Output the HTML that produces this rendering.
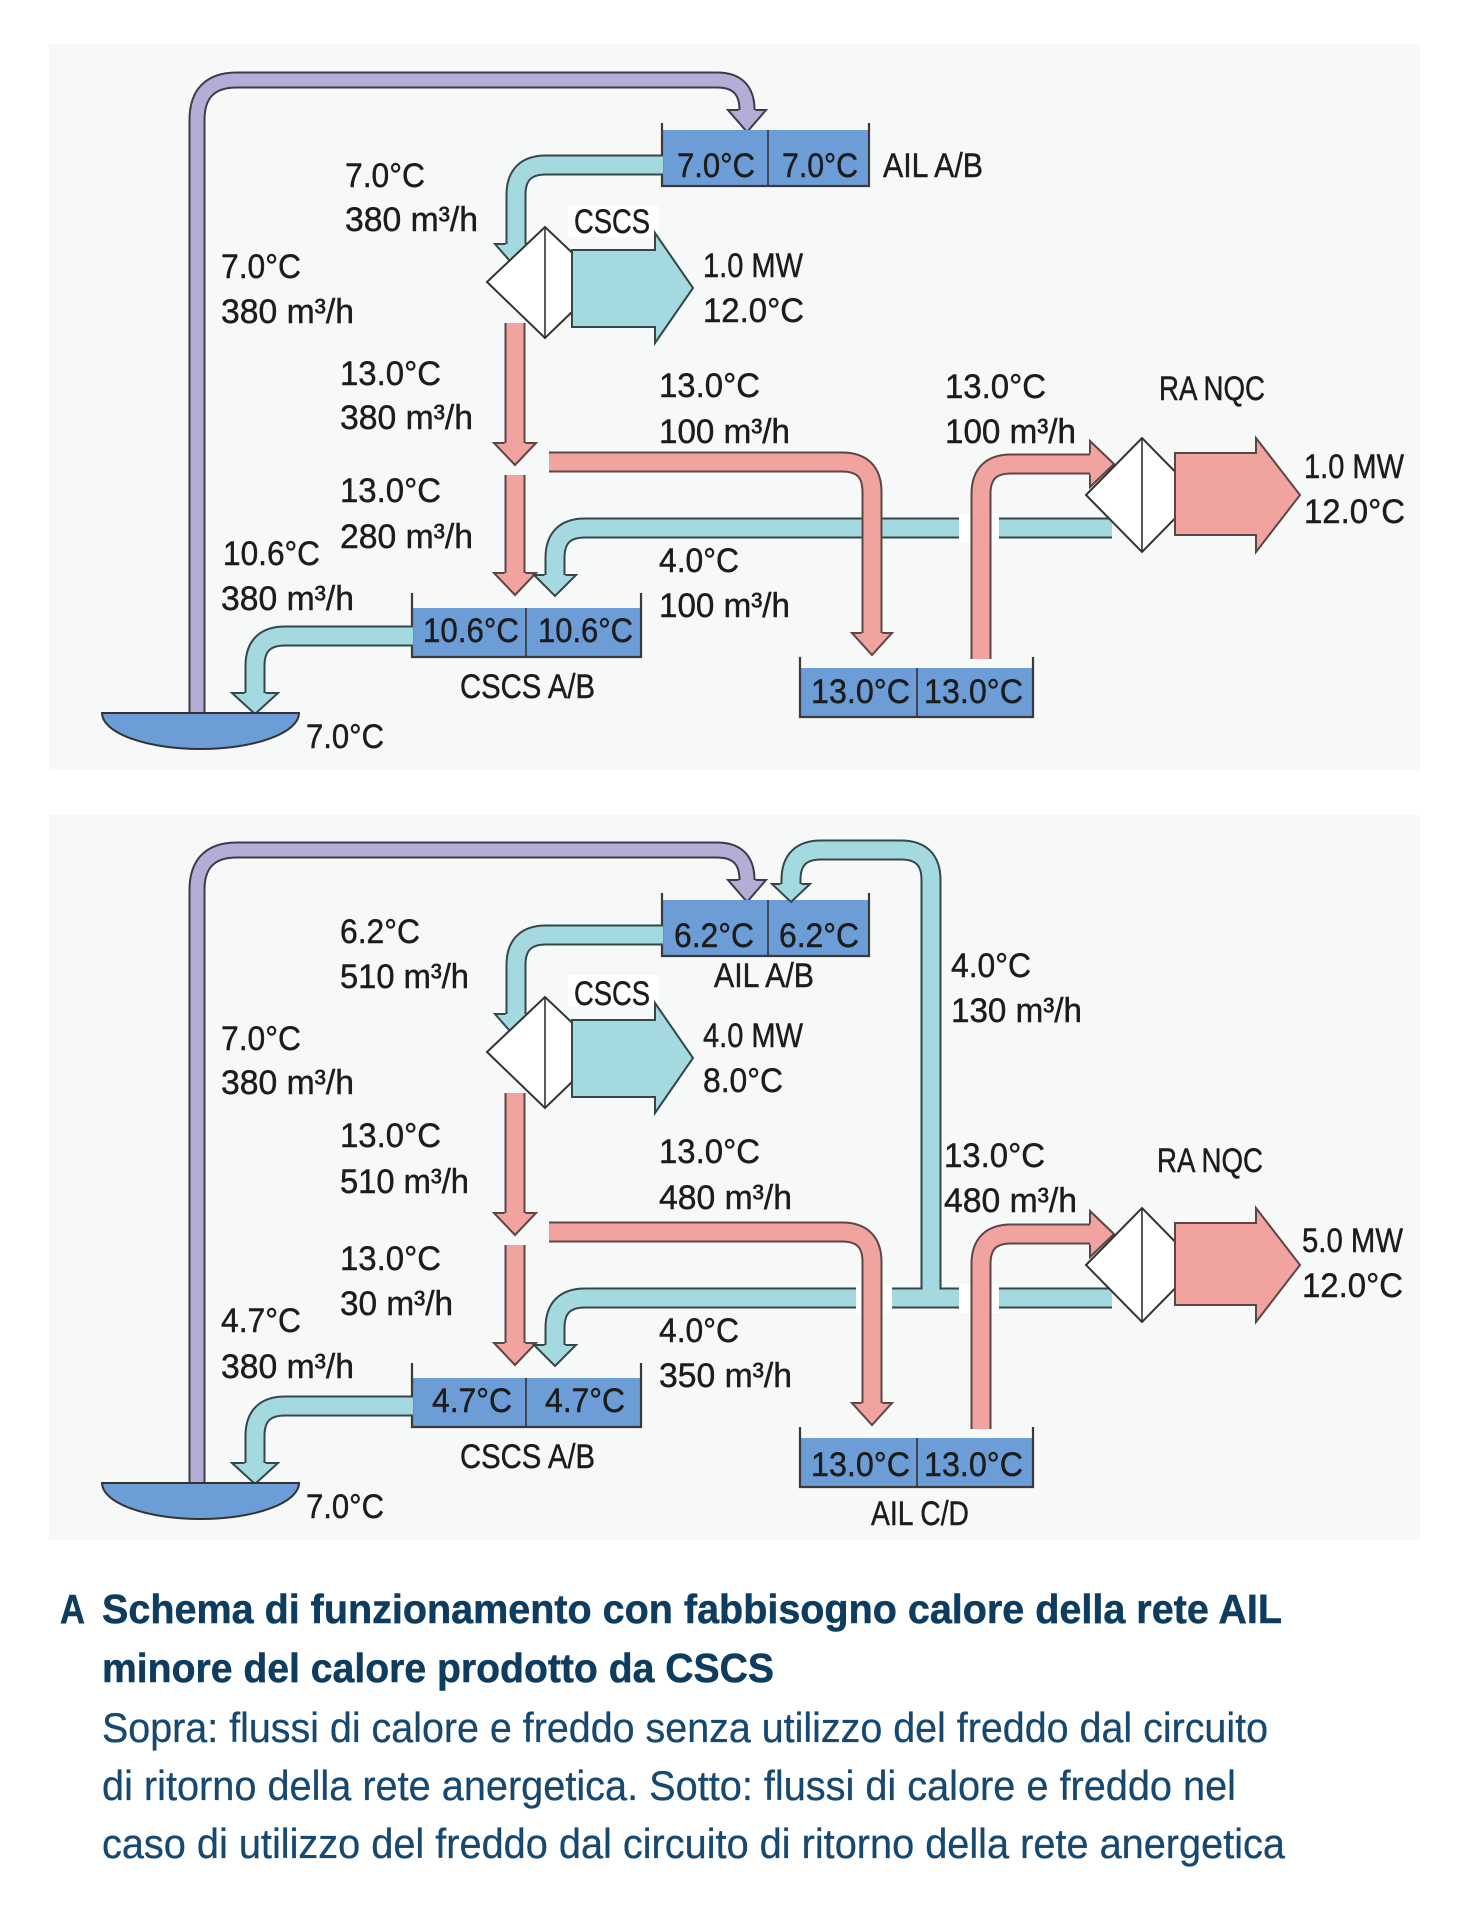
<!DOCTYPE html>
<html>
<head>
<meta charset="utf-8">
<style>
  html,body{margin:0;padding:0;background:#fff;}
  svg{display:block;}
  .po{fill:none;stroke:#3d3b4a;stroke-width:17}
  .pi{fill:none;stroke:#b6add6;stroke-width:13}
  .co{fill:none;stroke:#34474a;stroke-width:21}
  .ci{fill:none;stroke:#a3d9df;stroke-width:17}
  .ro{fill:none;stroke:#5b4646;stroke-width:21}
  .ri{fill:none;stroke:#f1a3a0;stroke-width:17}
  .ahp{fill:#b6add6;stroke:#3d3b4a;stroke-width:2;stroke-linejoin:miter}
  .ahc{fill:#a3d9df;stroke:#34474a;stroke-width:2;stroke-linejoin:miter}
  .ahr{fill:#f1a3a0;stroke:#5b4646;stroke-width:2;stroke-linejoin:miter}
  .dia{fill:#fff;stroke:#333;stroke-width:2}
  .vl{stroke:#333;stroke-width:1.6}
  .box{fill:#6c9dd7}
  .bo{fill:none;stroke:#3a3a3a;stroke-width:2.2}
  .t{font-family:"Liberation Sans Narrow","Liberation Sans",sans-serif;font-size:34.5px;fill:#1c1c1c;stroke:#1c1c1c;stroke-width:0.45}
  .cb{font-family:"Liberation Sans Narrow","Liberation Sans",sans-serif;font-size:41px;font-weight:bold;fill:#0d3c5f;stroke:#0d3c5f;stroke-width:0.5}
  .cr{font-family:"Liberation Sans Narrow","Liberation Sans",sans-serif;font-size:42px;fill:#174870;stroke:#174870;stroke-width:0.3}
</style>
</head>
<body>
<svg width="1479" height="1920" viewBox="0 0 1479 1920" xmlns="http://www.w3.org/2000/svg">
  <rect x="0" y="0" width="1479" height="1920" fill="#fff"/>

  <!-- ================= TOP DIAGRAM ================= -->
  <g>
    <rect x="49" y="44" width="1371" height="726" fill="#f7f8f8"/>
    <path class="po" d="M197,714 V120 Q197,80 237,80 H717 Q747,80 747,110"/>
    <path class="pi" d="M197,714 V120 Q197,80 237,80 H717 Q747,80 747,110"/>
    <path class="ahp" d="M738.5,110 L728,110 L747,132 L766,110 L755.5,110"/>

    <rect class="box" x="662" y="130" width="207" height="56"/>
    <path class="bo" d="M662,123 V186 H869 V123"/>
    <line class="vl" x1="768" y1="130" x2="768" y2="186"/>

    <path class="co" d="M663,165 H546 Q516,165 516,195 V244"/>
    <path class="ci" d="M663,165 H546 Q516,165 516,195 V244"/>
    <path class="ahc" d="M505.5,244 L495,244 L516,268 L537,244 L526.5,244"/>

    <path class="ro" d="M515,323 V443"/>
    <path class="ri" d="M515,323 V443"/>
    <path class="ahr" d="M504.5,443 L494,443 L515,465 L536,443 L525.5,443"/>

    <rect x="568" y="205" width="90" height="32" fill="#fff"/>
    <polygon class="dia" points="487,282 545,227 603,282 545,338"/>
    <line class="vl" x1="545" y1="227" x2="545" y2="338"/>
    <polygon class="ahc" points="572,250 655,250 655,233 693,288 655,343 655,327 572,327"/>

    <path class="ro" d="M515,475 V573"/>
    <path class="ri" d="M515,475 V573"/>
    <path class="ahr" d="M504.5,573 L494,573 L515,595 L536,573 L525.5,573"/>

    <path class="co" d="M1112,528 H585 Q555,528 555,558 V575"/>
    <path class="ci" d="M1112,528 H585 Q555,528 555,558 V575"/>
    <path class="ahc" d="M544.5,575 L534,575 L555,596 L576,575 L565.5,575"/>

    <path class="ro" d="M549,462 H842 Q872,462 872,492 V633"/>
    <path class="ri" d="M549,462 H842 Q872,462 872,492 V633"/>
    <path class="ahr" d="M861.5,633 L852,633 L872,655 L892,633 L882.5,633"/>

    <rect x="959" y="514" width="40" height="29" fill="#fff"/>
    <path class="ro" d="M981,659 V494 Q981,464 1011,464 H1090"/>
    <path class="ri" d="M981,659 V494 Q981,464 1011,464 H1090"/>
    <path class="ahr" d="M1090,453.5 L1090,441 L1114,464 L1090,487 L1090,474.5"/>

    <polygon class="dia" points="1086,495 1142,438 1198,495 1142,552"/>
    <line class="vl" x1="1142" y1="438" x2="1142" y2="552"/>
    <polygon class="ahr" points="1175,453 1256,453 1256,438 1300,495 1256,552 1256,535 1175,535"/>

    <rect class="box" x="412" y="608" width="229" height="49"/>
    <path class="bo" d="M412,593 V657 H641 V593"/>
    <line class="vl" x1="526" y1="608" x2="526" y2="657"/>

    <rect class="box" x="800" y="668" width="233" height="49"/>
    <path class="bo" d="M800,657 V717 H1033 V657"/>
    <line class="vl" x1="917" y1="668" x2="917" y2="717"/>

    <path class="co" d="M413,636 H285 Q255,636 255,666 V693"/>
    <path class="ci" d="M413,636 H285 Q255,636 255,666 V693"/>
    <path class="ahc" d="M244.5,693 L232,693 L255,714 L278,693 L265.5,693"/>

    <path d="M102,713 A98.5,36 0 0 0 299,713 Z" fill="#6c9dd7" stroke="#333" stroke-width="2"/>
  </g>

  <!-- ================= BOTTOM DIAGRAM ================= -->
  <g transform="translate(0,770)">
    <rect x="49" y="45" width="1371" height="725" fill="#f7f8f8"/>
    <path class="po" d="M197,714 V120 Q197,80 237,80 H717 Q747,80 747,110"/>
    <path class="pi" d="M197,714 V120 Q197,80 237,80 H717 Q747,80 747,110"/>
    <path class="ahp" d="M738.5,110 L728,110 L747,132 L766,110 L755.5,110"/>

    <rect class="box" x="662" y="130" width="207" height="56"/>
    <path class="bo" d="M662,123 V186 H869 V123"/>
    <line class="vl" x1="768" y1="130" x2="768" y2="186"/>

    <path class="co" d="M663,165 H546 Q516,165 516,195 V244"/>
    <path class="ci" d="M663,165 H546 Q516,165 516,195 V244"/>
    <path class="ahc" d="M505.5,244 L495,244 L516,268 L537,244 L526.5,244"/>

    <path class="ro" d="M515,323 V443"/>
    <path class="ri" d="M515,323 V443"/>
    <path class="ahr" d="M504.5,443 L494,443 L515,465 L536,443 L525.5,443"/>

    <rect x="568" y="205" width="90" height="32" fill="#fff"/>
    <polygon class="dia" points="487,282 545,227 603,282 545,338"/>
    <line class="vl" x1="545" y1="227" x2="545" y2="338"/>
    <polygon class="ahc" points="572,250 655,250 655,233 693,288 655,343 655,327 572,327"/>

    <path class="ro" d="M515,475 V573"/>
    <path class="ri" d="M515,475 V573"/>
    <path class="ahr" d="M504.5,573 L494,573 L515,595 L536,573 L525.5,573"/>

    <path class="co" d="M1112,528 H585 Q555,528 555,558 V575"/>
    <path class="ci" d="M1112,528 H585 Q555,528 555,558 V575"/>
    <path class="ahc" d="M544.5,575 L534,575 L555,596 L576,575 L565.5,575"/>

    <path class="co" d="M931,518 V110 Q931,80 901,80 H821 Q791,80 791,110 V114"/>
    <path class="ci" d="M931,530 V110 Q931,80 901,80 H821 Q791,80 791,110 V114"/>
    <path class="ahc" d="M780.5,114 L772,114 L791,132 L810,114 L801.5,114"/>

    <rect x="856" y="514" width="36" height="29" fill="#fff"/>
    <path class="ro" d="M549,462 H842 Q872,462 872,492 V633"/>
    <path class="ri" d="M549,462 H842 Q872,462 872,492 V633"/>
    <path class="ahr" d="M861.5,633 L852,633 L872,655 L892,633 L882.5,633"/>

    <rect x="959" y="514" width="40" height="29" fill="#fff"/>
    <path class="ro" d="M981,659 V494 Q981,464 1011,464 H1090"/>
    <path class="ri" d="M981,659 V494 Q981,464 1011,464 H1090"/>
    <path class="ahr" d="M1090,453.5 L1090,441 L1114,464 L1090,487 L1090,474.5"/>

    <polygon class="dia" points="1086,495 1142,438 1198,495 1142,552"/>
    <line class="vl" x1="1142" y1="438" x2="1142" y2="552"/>
    <polygon class="ahr" points="1175,453 1256,453 1256,438 1300,495 1256,552 1256,535 1175,535"/>

    <rect class="box" x="412" y="608" width="229" height="49"/>
    <path class="bo" d="M412,593 V657 H641 V593"/>
    <line class="vl" x1="526" y1="608" x2="526" y2="657"/>

    <rect class="box" x="800" y="668" width="233" height="49"/>
    <path class="bo" d="M800,657 V717 H1033 V657"/>
    <line class="vl" x1="917" y1="668" x2="917" y2="717"/>

    <path class="co" d="M413,636 H285 Q255,636 255,666 V693"/>
    <path class="ci" d="M413,636 H285 Q255,636 255,666 V693"/>
    <path class="ahc" d="M244.5,693 L232,693 L255,714 L278,693 L265.5,693"/>

    <path d="M102,713 A98.5,36 0 0 0 299,713 Z" fill="#6c9dd7" stroke="#333" stroke-width="2"/>
  </g>

  <!-- ================= TOP LABELS ================= -->
  <g>
    <text class="t" x="345" y="187" textLength="80" lengthAdjust="spacingAndGlyphs">7.0°C</text>
    <text class="t" x="345" y="231" textLength="133" lengthAdjust="spacingAndGlyphs">380 m³/h</text>
    <text class="t" x="574" y="233" textLength="76" lengthAdjust="spacingAndGlyphs">CSCS</text>
    <text class="t" x="221" y="278" textLength="80" lengthAdjust="spacingAndGlyphs">7.0°C</text>
    <text class="t" x="221" y="323" textLength="133" lengthAdjust="spacingAndGlyphs">380 m³/h</text>
    <text class="t" x="703" y="277" textLength="100" lengthAdjust="spacingAndGlyphs">1.0 MW</text>
    <text class="t" x="703" y="322" textLength="101" lengthAdjust="spacingAndGlyphs">12.0°C</text>
    <text class="t" x="340" y="385" textLength="101" lengthAdjust="spacingAndGlyphs">13.0°C</text>
    <text class="t" x="340" y="429" textLength="133" lengthAdjust="spacingAndGlyphs">380 m³/h</text>
    <text class="t" x="659" y="397" textLength="101" lengthAdjust="spacingAndGlyphs">13.0°C</text>
    <text class="t" x="659" y="443" textLength="131" lengthAdjust="spacingAndGlyphs">100 m³/h</text>
    <text class="t" x="945" y="398" textLength="101" lengthAdjust="spacingAndGlyphs">13.0°C</text>
    <text class="t" x="945" y="443" textLength="131" lengthAdjust="spacingAndGlyphs">100 m³/h</text>
    <text class="t" x="1159" y="400" textLength="106" lengthAdjust="spacingAndGlyphs">RA NQC</text>
    <text class="t" x="1304" y="478" textLength="100" lengthAdjust="spacingAndGlyphs">1.0 MW</text>
    <text class="t" x="1304" y="523" textLength="101" lengthAdjust="spacingAndGlyphs">12.0°C</text>
    <text class="t" x="340" y="502" textLength="101" lengthAdjust="spacingAndGlyphs">13.0°C</text>
    <text class="t" x="340" y="548" textLength="133" lengthAdjust="spacingAndGlyphs">280 m³/h</text>
    <text class="t" x="223" y="565" textLength="97" lengthAdjust="spacingAndGlyphs">10.6°C</text>
    <text class="t" x="221" y="610" textLength="133" lengthAdjust="spacingAndGlyphs">380 m³/h</text>
    <text class="t" x="659" y="572" textLength="80" lengthAdjust="spacingAndGlyphs">4.0°C</text>
    <text class="t" x="659" y="617" textLength="131" lengthAdjust="spacingAndGlyphs">100 m³/h</text>
    <text class="t" x="423" y="642" textLength="96" lengthAdjust="spacingAndGlyphs">10.6°C</text>
    <text class="t" x="538" y="642" textLength="95" lengthAdjust="spacingAndGlyphs">10.6°C</text>
    <text class="t" x="460" y="698" textLength="135" lengthAdjust="spacingAndGlyphs">CSCS A/B</text>
    <text class="t" x="306" y="748" textLength="78" lengthAdjust="spacingAndGlyphs">7.0°C</text>
    <text class="t" x="677" y="177" textLength="78" lengthAdjust="spacingAndGlyphs">7.0°C</text>
    <text class="t" x="782" y="177" textLength="76" lengthAdjust="spacingAndGlyphs">7.0°C</text>
    <text class="t" x="883" y="177" textLength="100" lengthAdjust="spacingAndGlyphs">AIL A/B</text>
    <text class="t" x="811" y="703" textLength="99" lengthAdjust="spacingAndGlyphs">13.0°C</text>
    <text class="t" x="924" y="703" textLength="99" lengthAdjust="spacingAndGlyphs">13.0°C</text>
  </g>

  <!-- ================= BOTTOM LABELS ================= -->
  <g>
    <text class="t" x="340" y="943" textLength="80" lengthAdjust="spacingAndGlyphs">6.2°C</text>
    <text class="t" x="340" y="988" textLength="129" lengthAdjust="spacingAndGlyphs">510 m³/h</text>
    <text class="t" x="574" y="1005" textLength="76" lengthAdjust="spacingAndGlyphs">CSCS</text>
    <text class="t" x="221" y="1050" textLength="80" lengthAdjust="spacingAndGlyphs">7.0°C</text>
    <text class="t" x="221" y="1094" textLength="133" lengthAdjust="spacingAndGlyphs">380 m³/h</text>
    <text class="t" x="703" y="1047" textLength="100" lengthAdjust="spacingAndGlyphs">4.0 MW</text>
    <text class="t" x="703" y="1092" textLength="80" lengthAdjust="spacingAndGlyphs">8.0°C</text>
    <text class="t" x="340" y="1147" textLength="101" lengthAdjust="spacingAndGlyphs">13.0°C</text>
    <text class="t" x="340" y="1193" textLength="129" lengthAdjust="spacingAndGlyphs">510 m³/h</text>
    <text class="t" x="659" y="1163" textLength="101" lengthAdjust="spacingAndGlyphs">13.0°C</text>
    <text class="t" x="659" y="1209" textLength="133" lengthAdjust="spacingAndGlyphs">480 m³/h</text>
    <text class="t" x="951" y="977" textLength="80" lengthAdjust="spacingAndGlyphs">4.0°C</text>
    <text class="t" x="951" y="1022" textLength="131" lengthAdjust="spacingAndGlyphs">130 m³/h</text>
    <text class="t" x="944" y="1167" textLength="101" lengthAdjust="spacingAndGlyphs">13.0°C</text>
    <text class="t" x="944" y="1212" textLength="133" lengthAdjust="spacingAndGlyphs">480 m³/h</text>
    <text class="t" x="1157" y="1172" textLength="106" lengthAdjust="spacingAndGlyphs">RA NQC</text>
    <text class="t" x="1302" y="1252" textLength="101" lengthAdjust="spacingAndGlyphs">5.0 MW</text>
    <text class="t" x="1302" y="1297" textLength="101" lengthAdjust="spacingAndGlyphs">12.0°C</text>
    <text class="t" x="340" y="1270" textLength="101" lengthAdjust="spacingAndGlyphs">13.0°C</text>
    <text class="t" x="340" y="1315" textLength="113" lengthAdjust="spacingAndGlyphs">30 m³/h</text>
    <text class="t" x="221" y="1332" textLength="80" lengthAdjust="spacingAndGlyphs">4.7°C</text>
    <text class="t" x="221" y="1378" textLength="133" lengthAdjust="spacingAndGlyphs">380 m³/h</text>
    <text class="t" x="659" y="1342" textLength="80" lengthAdjust="spacingAndGlyphs">4.0°C</text>
    <text class="t" x="659" y="1387" textLength="133" lengthAdjust="spacingAndGlyphs">350 m³/h</text>
    <text class="t" x="432" y="1412" textLength="80" lengthAdjust="spacingAndGlyphs">4.7°C</text>
    <text class="t" x="545" y="1412" textLength="80" lengthAdjust="spacingAndGlyphs">4.7°C</text>
    <text class="t" x="460" y="1468" textLength="135" lengthAdjust="spacingAndGlyphs">CSCS A/B</text>
    <text class="t" x="306" y="1518" textLength="78" lengthAdjust="spacingAndGlyphs">7.0°C</text>
    <text class="t" x="674" y="947" textLength="80" lengthAdjust="spacingAndGlyphs">6.2°C</text>
    <text class="t" x="779" y="947" textLength="80" lengthAdjust="spacingAndGlyphs">6.2°C</text>
    <text class="t" x="714" y="987" textLength="100" lengthAdjust="spacingAndGlyphs">AIL A/B</text>
    <text class="t" x="811" y="1476" textLength="99" lengthAdjust="spacingAndGlyphs">13.0°C</text>
    <text class="t" x="924" y="1476" textLength="99" lengthAdjust="spacingAndGlyphs">13.0°C</text>
    <text class="t" x="871" y="1525" textLength="98" lengthAdjust="spacingAndGlyphs">AIL C/D</text>
  </g>

  <!-- ================= CAPTION ================= -->
  <text class="cb" x="60" y="1623" textLength="25" lengthAdjust="spacingAndGlyphs">A</text>
  <text class="cb" x="102" y="1623" textLength="1180" lengthAdjust="spacingAndGlyphs">Schema di funzionamento con fabbisogno calore della rete AIL</text>
  <text class="cb" x="102" y="1682" textLength="672" lengthAdjust="spacingAndGlyphs">minore del calore prodotto da CSCS</text>
  <text class="cr" x="102" y="1742" textLength="1166" lengthAdjust="spacingAndGlyphs">Sopra: flussi di calore e freddo senza utilizzo del freddo dal circuito</text>
  <text class="cr" x="102" y="1800" textLength="1134" lengthAdjust="spacingAndGlyphs">di ritorno della rete anergetica. Sotto: flussi di calore e freddo nel</text>
  <text class="cr" x="102" y="1858" textLength="1183" lengthAdjust="spacingAndGlyphs">caso di utilizzo del freddo dal circuito di ritorno della rete anergetica</text>
</svg>
</body>
</html>
